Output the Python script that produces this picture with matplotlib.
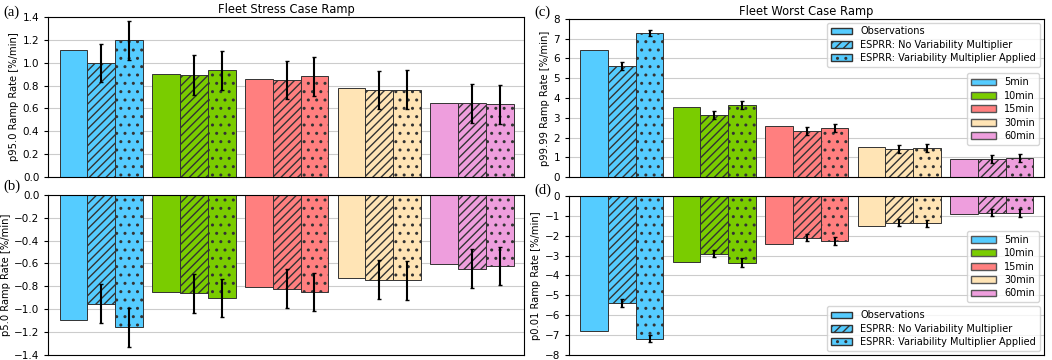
import numpy as np
import matplotlib
matplotlib.use("Agg")
import matplotlib.pyplot as plt
from matplotlib.patches import Patch

windows = ["5min", "10min", "15min", "30min", "60min"]
colors = ["#55CCFF", "#7ACC00", "#FF7F7F", "#FFE4B5", "#EE9EDD"]
series = ["Observations", "ESPRR: No Variability Multiplier",
          "ESPRR: Variability Multiplier Applied"]

# (a) p95.0
p95_obs = [1.115, 0.905, 0.858, 0.775, 0.647]
p95_nomult = [0.997, 0.892, 0.846, 0.761, 0.645]
p95_nomult_err = [0.17, 0.172, 0.167, 0.168, 0.171]
p95_mult = [1.195, 0.935, 0.882, 0.764, 0.635]
p95_mult_err = [0.17, 0.171, 0.172, 0.168, 0.172]

# (b) p5.0
p5_obs = [-1.097, -0.852, -0.808, -0.729, -0.607]
p5_nomult = [-0.951, -0.860, -0.822, -0.744, -0.645]
p5_nomult_err = [0.174, 0.169, 0.171, 0.171, 0.17]
p5_mult = [-1.158, -0.904, -0.852, -0.747, -0.622]
p5_mult_err = [0.17, 0.168, 0.167, 0.171, 0.168]

# (c) p99.99
p9999_obs = [6.43, 3.52, 2.58, 1.52, 0.92]
p9999_nomult = [5.59, 3.15, 2.31, 1.42, 0.92]
p9999_nomult_err = [0.2, 0.2, 0.2, 0.2, 0.2]
p9999_mult = [7.28, 3.65, 2.47, 1.49, 0.95]
p9999_mult_err = [0.17, 0.2, 0.21, 0.2, 0.2]

# (d) p0.01
p001_obs = [-6.80, -3.34, -2.44, -1.51, -0.93]
p001_nomult = [-5.38, -2.91, -2.10, -1.35, -0.84]
p001_nomult_err = [0.19, 0.18, 0.19, 0.19, 0.19]
p001_mult = [-7.18, -3.36, -2.29, -1.39, -0.87]
p001_mult_err = [0.19, 0.21, 0.2, 0.2, 0.19]

plt.rcParams["hatch.linewidth"] = 1.0
plt.rcParams["font.size"] = 7

fig = plt.figure(figsize=(10.52, 3.6), dpi=100)
ax_a = fig.add_axes([0.046, 0.508, 0.452, 0.445])
ax_b = fig.add_axes([0.046, 0.014, 0.452, 0.445])
ax_c = fig.add_axes([0.541, 0.508, 0.451, 0.44])
ax_d = fig.add_axes([0.541, 0.014, 0.451, 0.442])

x = np.arange(len(windows))
w = 0.3
hatches = ["", "////", ".."]


def draw(ax, obs, nomult, nomult_err, mult, mult_err, ylim, yticks, ylabel):
    ax.set_axisbelow(True)
    ax.grid(axis="y", color="#cccccc", linewidth=0.8)
    vals = [obs, nomult, mult]
    errs = [None, nomult_err, mult_err]
    for k in range(3):
        ax.bar(x + (k - 1) * w, vals[k], w, color=colors, edgecolor="#333333",
               linewidth=0.7, hatch=hatches[k])
        if errs[k] is not None:
            ax.errorbar(x + (k - 1) * w, vals[k], yerr=errs[k], fmt="none",
                        ecolor="black", elinewidth=1.5, capsize=1.5, capthick=1)
    ax.set_xlim(-0.57, 4.56)
    ax.set_ylim(*ylim)
    ax.set_yticks(yticks)
    ax.set_xticks([])
    ax.set_ylabel(ylabel, fontsize=7.2, labelpad=2.5)
    ax.tick_params(axis="y", labelsize=7.5, length=3)


draw(ax_a, p95_obs, p95_nomult, p95_nomult_err, p95_mult, p95_mult_err,
     (0, 1.4), np.arange(0, 1.41, 0.2), "p95.0 Ramp Rate [%/min]")
draw(ax_b, p5_obs, p5_nomult, p5_nomult_err, p5_mult, p5_mult_err,
     (-1.4, 0), np.arange(-1.4, 0.01, 0.2), "p5.0 Ramp Rate [%/min]")
draw(ax_c, p9999_obs, p9999_nomult, p9999_nomult_err, p9999_mult, p9999_mult_err,
     (0, 8), np.arange(0, 9), "p99.99 Ramp Rate [%/min]")
draw(ax_d, p001_obs, p001_nomult, p001_nomult_err, p001_mult, p001_mult_err,
     (-8, 0), np.arange(-8, 1), "p0.01 Ramp Rate [%/min]")

ax_a.set_yticklabels([f"{v:.1f}" for v in np.arange(0, 1.41, 0.2)])
ax_b.set_yticklabels([f"{v:.1f}".replace("-", "\u2212") if v < -0.01 else "0.0"
                      for v in np.arange(-1.4, 0.01, 0.2)])

ax_a.set_title("Fleet Stress Case Ramp", fontsize=8.3, pad=3)
ax_c.set_title("Fleet Worst Case Ramp", fontsize=8.3, pad=3)

hatch_handles = [Patch(facecolor=colors[0], edgecolor="#333333", hatch=h, label=s)
                 for h, s in zip(hatches, series)]
color_handles = [Patch(facecolor=c, edgecolor="#555555", label=lab)
                 for c, lab in zip(colors, windows)]

leg1 = ax_c.legend(handles=hatch_handles, loc="upper right", fontsize=7,
                   handlelength=2.2, borderaxespad=0.4, labelspacing=0.35)
ax_c.add_artist(leg1)
ax_c.legend(handles=color_handles, loc="upper right", bbox_to_anchor=(1.0, 0.685),
            fontsize=7, handlelength=2.6, labelspacing=0.35)

leg2 = ax_d.legend(handles=color_handles, loc="upper right", bbox_to_anchor=(1.0, 0.81),
                   fontsize=7, handlelength=2.6, labelspacing=0.35)
ax_d.add_artist(leg2)
ax_d.legend(handles=hatch_handles, loc="lower right", fontsize=7,
            handlelength=2.2, borderaxespad=0.4, labelspacing=0.35)

for lab, xx, yy in [("(a)", 0.003, 0.985), ("(b)", 0.003, 0.5),
                    ("(c)", 0.508, 0.985), ("(d)", 0.508, 0.49)]:
    fig.text(xx, yy, lab, fontsize=10.5, family="Liberation Serif", va="top")

fig.savefig("out.png", dpi=100)
